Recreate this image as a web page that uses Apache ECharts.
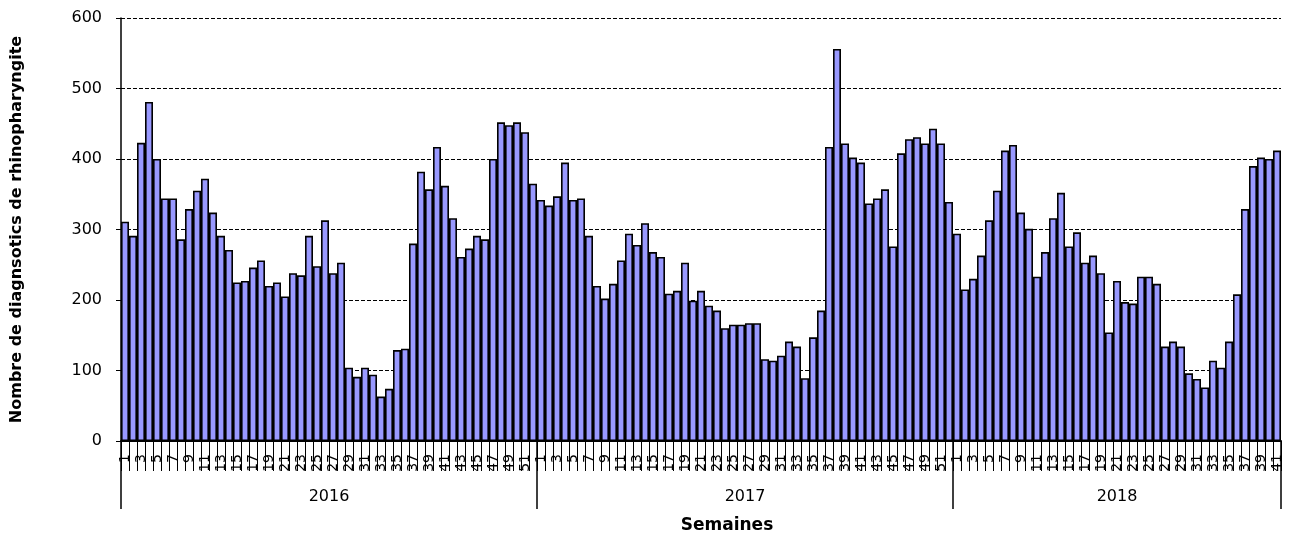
<!DOCTYPE html>
<html><head><meta charset="utf-8">
<script src="https://cdn.jsdelivr.net/npm/echarts@6/dist/echarts.min.js"></script>
<style>html,body{margin:0;padding:0;background:#fff}#c{width:1292px;height:540px}</style>
</head><body><div id="c"></div>
<script>
// ---- data ----
const years = ['2016', '2017', '2018'];
const weeksPerYear = [52, 52, 41];
const values2016 = [311, 291, 423, 481, 400, 344, 344, 286, 329, 355, 372, 324, 291, 271, 225, 227, 246, 256, 220, 225, 205, 238, 235, 291, 248, 313, 238, 253, 104, 91, 104, 94, 63, 74, 129, 131, 280, 382, 357, 417, 362, 316, 261, 273, 291, 286, 400, 452, 448, 452, 438, 365];
const values2017 = [342, 334, 347, 395, 342, 344, 291, 220, 202, 223, 256, 294, 278, 309, 268, 261, 209, 213, 253, 199, 213, 192, 185, 160, 165, 165, 167, 167, 116, 114, 121, 141, 134, 89, 147, 185, 417, 556, 422, 402, 395, 337, 344, 357, 276, 408, 428, 431, 422, 443, 422, 339];
const values2018 = [294, 215, 230, 263, 313, 355, 412, 420, 324, 301, 233, 268, 316, 352, 276, 296, 253, 263, 238, 154, 227, 197, 195, 233, 233, 223, 134, 141, 134, 96, 88, 76, 114, 104, 141, 208, 329, 390, 402, 400, 412];
const yMin = 0, yMax = 600, yStep = 100;
const xTitle = 'Semaines';
const yTitle = 'Nombre de diagnsotics de rhinopharyngite';

// ---- build ----
const FONT = 'DejaVu Sans';
const categories = [], weekNums = [], yearStart = [];
years.forEach((y, k) => {
  yearStart.push(categories.length);
  for (let w = 1; w <= weeksPerYear[k]; w++) { categories.push(y + '-S' + w); weekNums.push(w); }
});
const values = values2016.concat(values2017, values2018);
const yearLabelIdx = {};
years.forEach((y, k) => { yearLabelIdx[yearStart[k] + Math.floor(weeksPerYear[k] / 2)] = k; });
const yearTickIdx = new Set(yearStart);

const chart = echarts.init(document.getElementById('c'), null, {renderer: 'canvas'});
chart.setOption({
  animation: false,
  backgroundColor: '#ffffff',
  title: {
    text: xTitle, left: 727, top: 517, textAlign: 'center', padding: 0,
    textStyle: {fontFamily: FONT, fontSize: 17, fontWeight: 'bold', color: '#000'}
  },
  grid: {left: 121, right: 11, top: 18, bottom: 99, containLabel: false},
  xAxis: [{
    type: 'category', data: categories, position: 'bottom', z: 5,
    axisLine: {show: true, lineStyle: {color: '#000', width: 2}},
    axisTick: {show: true, interval: 0, length: 30, lineStyle: {color: '#000', width: 1}},
    axisLabel: {
      interval: (i) => weekNums[i] % 2 === 1,
      rotate: 90, margin: 13,
      formatter: (v, i) => String(weekNums[i]),
      fontFamily: FONT, fontSize: 14, color: '#000'
    },
    splitLine: {show: false}
  }, {
    type: 'category', data: categories, position: 'bottom',
    axisLine: {show: false},
    axisTick: {show: true, interval: (i) => yearTickIdx.has(i), length: 68, lineStyle: {color: '#000', width: 1.5}},
    axisLabel: {
      interval: (i) => yearLabelIdx[i] !== undefined,
      margin: 48,
      formatter: (v, i) => {
        const k = yearLabelIdx[i];
        if (k === undefined) return '';
        return (weeksPerYear[k] % 2 === 0 ? '{e|' : '{o|') + years[k] + '}';
      },
      rich: {
        e: {fontFamily: FONT, fontSize: 16, color: '#000', padding: [0, 8, 0, 0]},
        o: {fontFamily: FONT, fontSize: 16, color: '#000'}
      },
      fontFamily: FONT, fontSize: 16, color: '#000'
    },
    splitLine: {show: false}
  }],
  yAxis: {
    type: 'value', min: yMin, max: yMax, interval: yStep,
    name: yTitle, nameLocation: 'middle', nameRotate: 90, nameGap: 96,
    nameTextStyle: {fontFamily: FONT, fontSize: 16, fontWeight: 'bold', color: '#000'},
    axisLine: {show: true, lineStyle: {color: '#000', width: 1.5}},
    axisTick: {show: true, length: 5, lineStyle: {color: '#000'}},
    axisLabel: {margin: 19, fontFamily: FONT, fontSize: 16, color: '#000'},
    splitLine: {show: true, lineStyle: {color: '#000', width: 1, type: [4, 2]}}
  },
  series: [{
    type: 'bar', xAxisIndex: 0, data: values,
    barCategoryGap: '0%',
    itemStyle: {color: '#9999ff', borderColor: '#000', borderWidth: 1.6}
  }]
});
</script></body></html>
